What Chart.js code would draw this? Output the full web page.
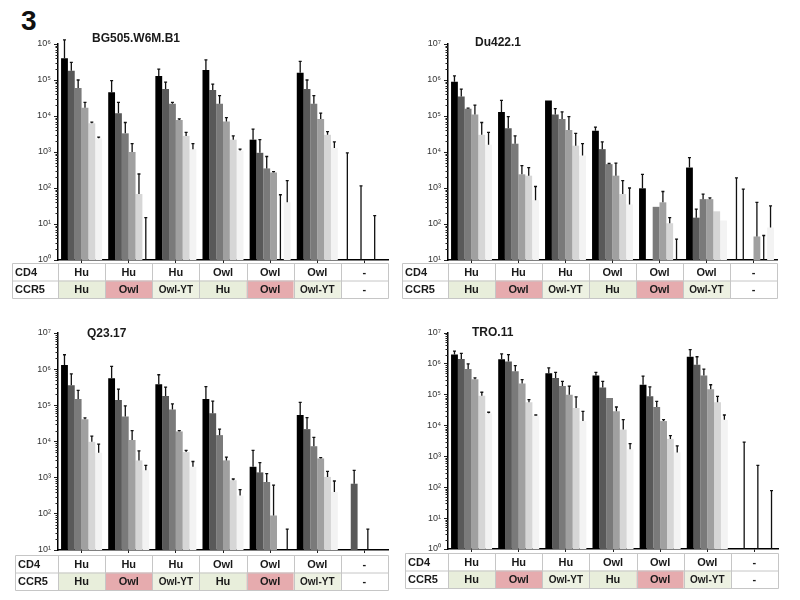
<!DOCTYPE html>
<html>
<head>
<meta charset="utf-8">
<script src="https://cdn.jsdelivr.net/npm/chart.js@4.4.0/dist/chart.umd.min.js"></script>
<style>
  body { margin: 0; background: #fff; }
  #wrap { position: relative; width: 800px; height: 600px; font-family: Arial, "Liberation Sans", sans-serif; }
  canvas { position: absolute; }
  .title { position: absolute; font-weight: bold; font-size: 12px; color: #1a1a1a; }
  #fig { position: absolute; left: 21px; top: 5px; font-size: 28px; font-weight: bold; color: #111; }
</style>
</head>
<body>
<div id="wrap">
  <div id="fig">3</div>
  <canvas id="c1" width="400" height="300" style="left:0;top:0"></canvas>
  <canvas id="c2" width="400" height="300" style="left:390px;top:0"></canvas>
  <canvas id="c3" width="400" height="310" style="left:0;top:290px"></canvas>
  <canvas id="c4" width="400" height="310" style="left:390px;top:290px"></canvas>
  <div class="title" style="left:92px;top:31px">BG505.W6M.B1</div>
  <div class="title" style="left:475px;top:35px">Du422.1</div>
  <div class="title" style="left:87px;top:326px">Q23.17</div>
  <div class="title" style="left:472px;top:325px">TRO.11</div>
</div>
<script>
// table rows under each panel
const cd4Row = ['Hu', 'Hu', 'Hu', 'Owl', 'Owl', 'Owl', '-'];
const ccr5Row = ['Hu', 'Owl', 'Owl-YT', 'Hu', 'Owl', 'Owl-YT', '-'];

// values per group (7 groups), 6 dilutions each; null = below axis
const bg505Mean = [
  [4e5, 1.8e5, 6e4, 1.7e4, 6.3e3, 2.4e3],
  [4.6e4, 1.2e4, 3.3e3, 1e3, 68, null],
  [1.3e5, 5.6e4, 2.2e4, 7.8e3, 2.8e3, 1.2e3],
  [1.9e5, 5.3e4, 2.2e4, 7e3, 2.2e3, 1.1e3],
  [2.2e3, 950, 350, 270, null, 40],
  [1.6e5, 5.6e4, 2.2e4, 8.3e3, 3e3, 1.3e3],
  [null, null, null, null, null, null]
];
const bg505Err = [
  [1.3e6, 3.1e5, 1e5, 2.4e4, 6.8e3, 2.6e3],
  [9.6e4, 2.4e4, 6.6e3, 1.7e3, 245, 15],
  [2e5, 8.7e4, 2.4e4, 8.3e3, 3.5e3, 1.7e3],
  [3.6e5, 7.7e4, 3.7e4, 9e3, 2.8e3, 1.2e3],
  [4.3e3, 2.2e3, 750, 285, 65, 160],
  [3.3e5, 1e5, 3.7e4, 1.2e4, 3.7e3, 1.9e3],
  [950, null, 115, null, 17, null]
];

const du422Mean = [
  [9e5, 3.5e5, 1.6e5, 1.1e5, 3e4, 1.6e4],
  [1.3e5, 4.6e4, 1.7e4, 2.4e3, 2.2e3, 460],
  [2.7e5, 1.1e5, 8.3e4, 4.1e4, 1.5e4, 8e3],
  [3.9e4, 1.2e4, 4.6e3, 2.2e3, 680, 350],
  [980, null, 300, 400, 105, null],
  [3.7e3, 150, 490, 490, 225, 125],
  [null, null, null, 45, null, 80]
];
const du422Err = [
  [1.3e6, 5.6e5, 1.65e5, 2e5, 6.6e4, 3.5e4],
  [2.7e5, 9.6e4, 2.8e4, 4.2e3, 3.7e3, 1.1e3],
  [null, 1.6e5, 1.3e5, 9.6e4, 3.3e4, 1.7e4],
  [4.9e4, 1.9e4, 4.8e3, 4.9e3, 1.6e3, 1e3],
  [2.4e3, null, null, 800, 150, 38],
  [7e3, 260, 680, 530, null, null],
  [1.9e3, 930, null, 400, 48, 320]
];

const q23Mean = [
  [1.3e6, 3.6e5, 1.5e5, 4.1e4, 9.8e3, 4.9e3],
  [5.6e5, 1.4e5, 4.9e4, 1.1e4, 3e3, 1.6e3],
  [3.8e5, 1.8e5, 7.7e4, 1.9e4, 5.1e3, 2e3],
  [1.5e5, 6e4, 1.5e4, 3e3, 850, 320],
  [2e3, 1.4e3, 760, 90, null, null],
  [5.4e4, 2.2e4, 7.4e3, 3.4e3, 1.05e3, 400],
  [null, 680, null, null, null, null]
];
const q23Err = [
  [2.5e6, 7.4e5, 2.6e5, 4.5e4, 1.4e4, 8.5e3],
  [1.2e6, 2.8e5, 9.6e4, 2e4, 5.5e3, 2.2e3],
  [7e5, 3.2e5, 1.1e5, 2e4, 5.7e3, 2.8e3],
  [3.3e5, 1.3e5, 2.2e4, 3.7e3, 920, 470],
  [5.7e3, 2.6e3, 1.3e3, 620, null, 38],
  [1.2e5, 4.6e4, 1.3e4, 3.6e3, 1.5e3, 810],
  [null, 1.6e3, null, 38, null, null]
];

const tro11Mean = [
  [2e6, 1.45e6, 6.8e5, 3.2e5, 9.3e4, 2.5e4],
  [1.4e6, 1.2e6, 5.8e5, 2.3e5, 5.7e4, 2.1e4],
  [5e5, 3.5e5, 1.9e5, 1e5, 3.7e4, 1.4e4],
  [4.2e5, 1.7e5, 7.8e4, 2.9e4, 7.4e3, 1.7e3],
  [2.1e5, 9e4, 4e4, 1.4e4, 3.7e3, 1.35e3],
  [1.7e6, 9.4e5, 4.2e5, 1.5e5, 5.7e4, 1.55e4],
  [null, null, null, null, null, null]
];
const tro11Err = [
  [2.6e6, 2.2e6, 1e6, 3.5e5, 1.2e5, 2.7e4],
  [2.1e6, 2e6, 8.7e5, 3.1e5, 6.9e4, 2.2e4],
  [7.4e5, 5.3e5, 2.7e5, 1.9e5, 8.5e4, 2.9e4],
  [5.3e5, 2.7e5, null, 4e4, 1.55e4, 2.6e3],
  [4e5, 1.8e5, 6.1e4, 1.55e4, 4.7e3, 2.2e3],
  [2.9e6, 1.7e6, 6.8e5, 2.1e5, 8.9e4, 2.2e4],
  [null, 2.9e3, null, 510, null, 78]
];

const shades = ['#000000', '#595959', '#7a7a7a', '#a0a0a0', '#d6d6d6', '#f3f3f3'];
const ccr5Fill = ['#e8eedb', '#e6abae', '#edf1e2', '#e8eedb', '#e6abae', '#edf1e2', '#ffffff'];
const sup = { '0': '⁰', '1': '¹', '2': '²', '3': '³', '4': '⁴', '5': '⁵', '6': '⁶', '7': '⁷' };

const errorBars = {
  id: 'errorBars',
  afterDatasetsDraw(chart) {
    const ctx = chart.ctx;
    const ys = chart.scales.y;
    ctx.save();
    ctx.strokeStyle = '#111';
    ctx.lineWidth = 1.3;
    chart.data.datasets.forEach((ds, i) => {
      const meta = chart.getDatasetMeta(i);
      ds.err.forEach((e, j) => {
        if (e == null) return;
        const bar = meta.data[j];
        const x = bar.x;
        const y0 = ds.data[j] == null ? chart.chartArea.bottom : bar.y;
        const y1 = ys.getPixelForValue(e);
        ctx.beginPath();
        ctx.moveTo(x, y0);
        ctx.lineTo(x, y1);
        ctx.moveTo(x - 1.5, y1);
        ctx.lineTo(x + 1.5, y1);
        ctx.stroke();
      });
    });
    ctx.restore();
  }
};

// minor ticks on y axis + the CD4/CCR5 table under the plot
const axisExtras = {
  id: 'axisExtras',
  afterDraw(chart, args, opts) {
    const ctx = chart.ctx;
    const ys = chart.scales.y;
    const a = chart.chartArea;
    ctx.save();
    ctx.strokeStyle = '#222';
    ctx.lineWidth = 1;
    const p0 = Math.round(Math.log10(ys.min)), p1 = Math.round(Math.log10(ys.max));
    for (let p = p0; p < p1; p++) {
      for (let m = 2; m < 10; m++) {
        const yy = Math.round(ys.getPixelForValue(m * Math.pow(10, p))) + 0.5;
        ctx.beginPath();
        ctx.moveTo(a.left - 2.5, yy);
        ctx.lineTo(a.left, yy);
        ctx.stroke();
      }
    }

    const n = cd4Row.length;
    const w = (a.right - a.left) / n;
    const top = opts.top, rh = opts.rowH;
    ccr5Row.forEach((lab, i) => {
      ctx.fillStyle = ccr5Fill[i];
      ctx.fillRect(a.left + i * w, top + rh, w, rh);
    });
    ctx.strokeStyle = '#c6c6c6';
    ctx.beginPath();
    ctx.rect(opts.left + 0.5, top + 0.5, a.right - opts.left, 2 * rh);
    ctx.moveTo(opts.left, top + rh + 0.5);
    ctx.lineTo(a.right, top + rh + 0.5);
    for (let i = 0; i < n; i++) {
      const xx = Math.round(a.left + i * w) + 0.5;
      ctx.moveTo(xx, top);
      ctx.lineTo(xx, top + 2 * rh);
    }
    ctx.stroke();

    ctx.fillStyle = '#1a1a1a';
    ctx.textBaseline = 'middle';
    ctx.font = 'bold 11px Arial, "Liberation Sans", sans-serif';
    ctx.textAlign = 'left';
    ctx.fillText('CD4', opts.left + 3, top + rh / 2 + 1);
    ctx.fillText('CCR5', opts.left + 3, top + rh * 1.5 + 1);
    ctx.textAlign = 'center';
    for (let i = 0; i < n; i++) {
      const cx = a.left + (i + 0.5) * w;
      ctx.font = 'bold 11px Arial, "Liberation Sans", sans-serif';
      ctx.fillText(cd4Row[i], cx, top + rh / 2 + 1);
      ctx.font = (ccr5Row[i].length > 4 ? 'bold 10px' : 'bold 11px') + ' Arial, "Liberation Sans", sans-serif';
      ctx.fillText(ccr5Row[i], cx, top + rh * 1.5 + 1);
    }
    ctx.restore();
  }
};

function makePanel(id, mean, err, yMin, yMax, pad, table) {
  const datasets = shades.map((col, d) => ({
    data: mean.map(g => g[d]),
    err: err.map(g => g[d]),
    backgroundColor: col,
    borderWidth: 0,
    barPercentage: 1.0,
    categoryPercentage: 0.87
  }));
  const decades = [];
  for (let v = yMin; v <= yMax; v *= 10) decades.push(v);

  new Chart(document.getElementById(id), {
    type: 'bar',
    data: { labels: cd4Row.map((c, i) => c + '/' + ccr5Row[i]), datasets: datasets },
    options: {
      responsive: false,
      animation: false,
      layout: { padding: pad },
      plugins: {
        legend: { display: false },
        tooltip: { enabled: false },
        axisExtras: table
      },
      scales: {
        x: {
          grid: { offset: false, drawOnChartArea: false, tickLength: 3, color: '#222' },
          ticks: { display: false },
          border: { color: '#000', width: 1.5 },
          afterFit: s => { s.height = 5; }
        },
        y: {
          type: 'logarithmic',
          min: yMin,
          max: yMax,
          grid: { drawOnChartArea: false, tickLength: 4, color: '#222' },
          border: { color: '#000', width: 1.5 },
          afterBuildTicks: s => { s.ticks = decades.map(v => ({ value: v })); },
          afterFit: s => { s.width = 48; },
          ticks: {
            padding: 3,
            color: '#333',
            font: { family: 'Arial', size: 9 },
            callback: v => '10' + sup[String(Math.round(Math.log10(v)))]
          }
        }
      }
    },
    plugins: [errorBars, axisExtras]
  });
}

makePanel('c1', bg505Mean, bg505Err, 1, 1e6, { left: 10, right: 12, top: 44, bottom: 35 }, { left: 12, top: 263, rowH: 17.5 });
makePanel('c2', du422Mean, du422Err, 10, 1e7, { left: 10, right: 13, top: 44, bottom: 35 }, { left: 12, top: 263, rowH: 17.5 });
makePanel('c3', q23Mean, q23Err, 10, 1e7, { left: 10, right: 12, top: 43, bottom: 45 }, { left: 15, top: 265, rowH: 17.5 });
makePanel('c4', tro11Mean, tro11Err, 1, 1e7, { left: 10, right: 12, top: 43, bottom: 46 }, { left: 15, top: 263, rowH: 17.5 });
</script>
</body>
</html>
